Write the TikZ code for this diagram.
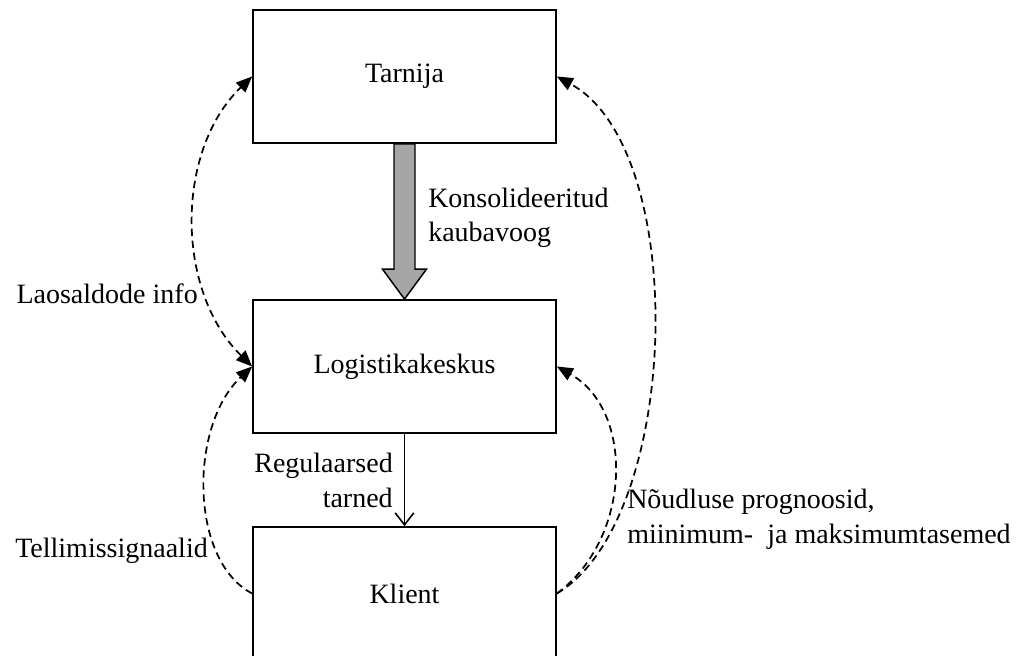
\documentclass[tikz,border=0pt]{standalone}
\usepackage{fontspec}
\setmainfont{Liberation Serif}
\usetikzlibrary{arrows.meta,calc}
\definecolor{flowgray}{RGB}{166,166,166}
\begin{document}
\begin{tikzpicture}[x=0.75pt,y=-0.75pt,
  txt/.style={font=\fontsize{21}{26}\selectfont, inner sep=0pt},
  box/.style={txt, draw, line width=1.3pt, minimum width=227.25pt, minimum height=99.75pt},
  dsh/.style={dash pattern=on 5.5pt off 3.5pt, line width=1.3pt},
  tri/.tip={Triangle[length=12pt,width=10pt]}]
\clip (0,0) rectangle (1025,656);

% the three stages of the supply chain
\node[box] (t) at (404.5,76.5)  {Tarnija};
\node[box] (l) at (404.5,366.5) {Logistikakeskus};
\node[box] (k) at (404.5,593.5) {Klient};

% consolidated goods flow (wide grey arrow)
\draw[line width=1.1pt, fill=flowgray]
  ($(t.south)+(-10.5,0)$) -- ($(t.south)+(10.5,0)$) -- ($(l.north)+(10.5,-30)$)
  -- ($(l.north)+(22,-30)$) -- (l.north) -- ($(l.north)+(-22,-30)$)
  -- ($(l.north)+(-10.5,-30)$) -- cycle;
\node[txt, anchor=base west, align=left] (kons) at (428,242)
  {Konsolideeritud\\kaubavoog};

% regular deliveries
\draw[line width=1.2pt, -{Straight Barb[length=9pt,width=14pt,line width=1.2pt]}] (l.south) -- (k.north);
\node[txt, anchor=base east, align=right] (reg) at (393,507) {Regulaarsed\\tarned};

% information flows (dashed)
\draw[dsh, tri-tri] (l.west) .. controls +(-77,-76) and +(-77,74) .. (t.west);
\node[txt, anchor=base east] (lao) at (198,303) {Laosaldode info};

\draw[dsh, -tri] (k.west) .. controls +(-63,-33) and +(-63,59) .. (l.west);
\node[txt, anchor=base east] (tell) at (208,557) {Tellimissignaalid};

\draw[dsh, -tri] (k.east) .. controls +(124,-73) and +(134,73) .. (t.east);
\draw[dsh, -tri] (k.east) .. controls +(75,-55) and +(78,44) .. (l.east);
\node[txt, anchor=base west, align=left] (noud) at (627,543)
  {Nõudluse prognoosid,\\miinimum-\ \ ja maksimumtasemed};
\end{tikzpicture}
\end{document}
